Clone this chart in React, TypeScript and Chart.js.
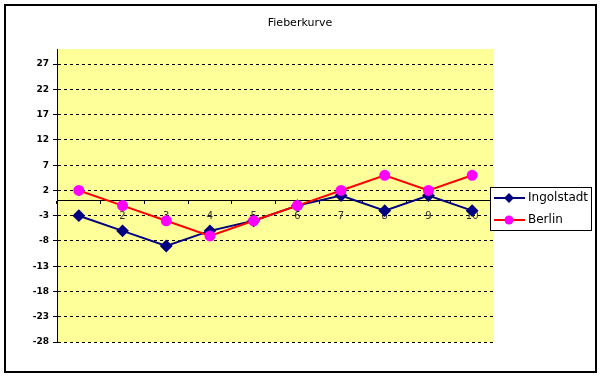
import React, { useEffect, useRef } from "react";
import { Chart, registerables } from "chart.js";

Chart.register(...registerables);

const categories = ["1", "2", "3", "4", "5", "6", "7", "8", "9", "10"];
const ingolstadt = [-3, -6, -9, -6, -4, -1, 1, -2, 1, -2];
const berlin = [2, -1, -4, -7, -4, -1, 2, 5, 2, 5];
const yMin = -28;
const yMax = 30;
const yStep = 5;
const titleText = "Fieberkurve";

const FONT = "'DejaVu Sans', Tahoma, sans-serif";

const framePlugin = {
  id: "frame",
  beforeDraw(chart: any) {
    const { ctx, chartArea } = chart;
    ctx.save();
    ctx.fillStyle = "#ffffff";
    ctx.fillRect(0, 0, chart.width, chart.height);
    ctx.fillStyle = "#FFFF99";
    ctx.fillRect(chartArea.left, chartArea.top, chartArea.right - chartArea.left, chartArea.bottom - chartArea.top);
    ctx.strokeStyle = "#000000";
    ctx.lineWidth = 2;
    ctx.strokeRect(5, 5, 591, 367);
    ctx.fillStyle = "#000000";
    ctx.font = `11px ${FONT}`;
    ctx.textAlign = "center";
    ctx.textBaseline = "middle";
    ctx.fillText(titleText, 300, 23);
    ctx.restore();
  },
  afterDraw(chart: any) {
    const { ctx } = chart;
    const ds = chart.data.datasets;
    const bx = 490.5, by = 187.5, bw = 101, bh = 43;
    ctx.save();
    ctx.fillStyle = "#ffffff";
    ctx.fillRect(bx, by, bw, bh);
    ctx.strokeStyle = "#000000";
    ctx.lineWidth = 1;
    ctx.strokeRect(bx, by, bw, bh);
    ds.forEach((d: any, i: number) => {
      const y = 198 + i * 22;
      ctx.strokeStyle = d.borderColor;
      ctx.lineWidth = 2;
      ctx.beginPath();
      ctx.moveTo(494, y);
      ctx.lineTo(525, y);
      ctx.stroke();
      ctx.fillStyle = d.pointBackgroundColor;
      ctx.beginPath();
      if (d.pointStyle === "rectRot") {
        const r = 5;
        ctx.moveTo(509, y - r);
        ctx.lineTo(509 + r, y);
        ctx.lineTo(509, y + r);
        ctx.lineTo(509 - r, y);
        ctx.closePath();
      } else {
        ctx.arc(509, y, 4.5, 0, Math.PI * 2);
      }
      ctx.fill();
      ctx.fillStyle = "#000000";
      ctx.font = `12px ${FONT}`;
      ctx.textBaseline = "middle";
      ctx.textAlign = "left";
      ctx.fillText(d.label, 528, y);
    });
    ctx.restore();
  },
};

export default function App() {
  const ref = useRef<HTMLCanvasElement>(null);
  useEffect(() => {
    if (!ref.current) return;
    const chart = new Chart(ref.current, {
      type: "line",
      data: {
        labels: categories,
        datasets: [
          {
            label: "Ingolstadt",
            data: ingolstadt,
            borderColor: "#000080",
            backgroundColor: "#000080",
            pointBackgroundColor: "#000080",
            pointBorderColor: "#000080",
            pointStyle: "rectRot",
            pointRadius: 5,
            borderWidth: 2,
            order: 1,
          },
          {
            label: "Berlin",
            data: berlin,
            borderColor: "#FF0000",
            backgroundColor: "#FF00FF",
            pointBackgroundColor: "#FF00FF",
            pointBorderColor: "#FF00FF",
            pointStyle: "circle",
            pointRadius: 4.5,
            borderWidth: 2,
            order: 0,
          },
        ] as any,
      },
      options: {
        responsive: false,
        animation: false,
        layout: { padding: { left: 18, right: 107, bottom: 37, top: 49 } },
        plugins: {
          legend: { display: false },
          tooltip: { enabled: false },
          title: { display: false },
        },
        scales: {
          x: {
            type: "category",
            position: { y: 0 } as any,
            offset: true,
            grid: {
              display: true,
              offset: true,
              drawOnChartArea: false,
              drawTicks: true,
              tickLength: 3,
              color: "#000000",
            },
            border: { display: true, color: "#000000", width: 1 },
            ticks: {
              color: "#333333",
              font: { family: FONT, size: 10 },
              padding: 7,
              maxRotation: 0,
            },
          },
          y: {
            min: yMin,
            max: yMax,
            afterFit: (s: any) => {
              s.width = 57 - 18;
            },
            afterBuildTicks: (s: any) => {
              const t = [];
              for (let v = yMin; v <= yMax; v += yStep) t.push({ value: v });
              s.ticks = t;
            },
            grid: {
              color: "#000000",
              lineWidth: 1,
              drawTicks: true,
              tickLength: 4,
              tickBorderDash: [],
              tickColor: "#000000",
            } as any,
            border: { display: true, color: "#000000", width: 1, dash: [3, 3] },
            ticks: {
              color: "#000000",
              font: { family: FONT, size: 9, weight: "bold" },
              padding: 4,
            },
          },
        },
      },
      plugins: [framePlugin],
    });
    return () => chart.destroy();
  }, []);
  return (
    <div style={{ position: "absolute", left: 0, top: 0 }}>
      <canvas ref={ref} width={601} height={379} style={{ display: "block" }} />
    </div>
  );
}
